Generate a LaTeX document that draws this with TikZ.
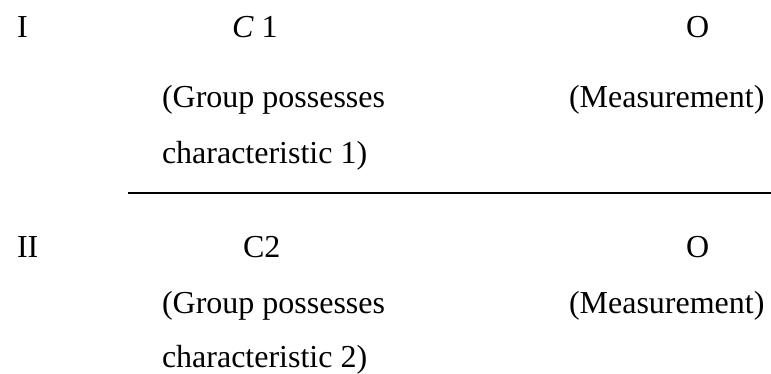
\documentclass[tikz,border=0pt]{standalone}
\usepackage{fontspec}
\setmainfont{Liberation Serif}
\begin{document}
\begin{tikzpicture}[x=1pt,y=-1pt,
  lbl/.style={anchor=base west,inner sep=0pt,outer sep=0pt,font=\fontsize{32}{38}\selectfont},
  rule/.style={line width=1.6pt}]
\useasboundingbox (0,0) rectangle (771,374);
% Group I
\node[lbl] (r1)  at (17,38)  {I};
\node[lbl] (c1)  at (232,38) {\textit{C} 1};
\node[lbl] (o1)  at (686,38) {O};
\node[lbl] (g1a) at (162,108) {(Group possesses};
\node[lbl] (m1)  at (569,108) {(Measurement)};
\node[lbl] (g1b) at (162,164) {characteristic 1)};
% separating rule
\coordinate (ruleL) at (128,193);
\coordinate (ruleR) at (771,193);
\draw[rule] (ruleL) -- (ruleR);
% Group II
\node[lbl] (r2)  at (17,258)  {II};
\node[lbl] (c2)  at (243,258) {C2};
\node[lbl] (o2)  at (686,258) {O};
\node[lbl] (g2a) at (162,313) {(Group possesses};
\node[lbl] (m2)  at (569,313) {(Measurement)};
\node[lbl] (g2b) at (162,367) {characteristic 2)};
\end{tikzpicture}
\end{document}
